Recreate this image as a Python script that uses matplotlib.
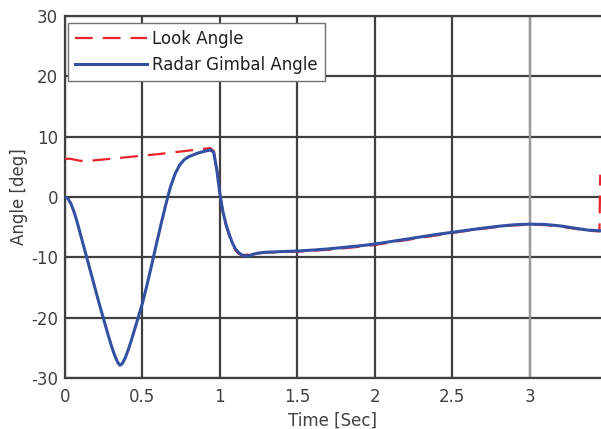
import matplotlib
matplotlib.use("Agg")
import matplotlib.pyplot as plt

# Time samples and angles [deg]
t_radar = [0.00, 0.02, 0.04, 0.06, 0.08, 0.10, 0.12, 0.14, 0.16, 0.18, 0.20, 0.22,
           0.24, 0.26, 0.28, 0.30, 0.32, 0.34, 0.355, 0.37, 0.39, 0.41, 0.43, 0.45,
           0.47, 0.50, 0.53, 0.56, 0.59, 0.62, 0.65, 0.68, 0.71, 0.74, 0.77, 0.80,
           0.83, 0.86, 0.89, 0.92, 0.94, 0.96, 0.98, 1.00, 1.02, 1.04, 1.06, 1.08,
           1.10, 1.12, 1.14, 1.16, 1.19, 1.22, 1.26, 1.30, 1.40, 1.50, 1.60, 1.70,
           1.80, 1.90, 2.00, 2.10, 2.20, 2.30, 2.40, 2.50, 2.60, 2.70, 2.80, 2.90,
           3.00, 3.10, 3.20, 3.30, 3.38, 3.455]
radar_angle = [0.0, -0.3, -1.2, -2.6, -4.3, -6.2, -8.1, -10.0, -11.9, -13.8, -15.7, -17.6,
               -19.4, -21.2, -23.0, -24.7, -26.2, -27.4, -27.9, -27.6, -26.6, -25.2, -23.6, -21.9,
               -20.2, -17.6, -14.5, -11.2, -7.8, -4.5, -1.3, 1.6, 3.8, 5.3, 6.2, 6.7,
               7.0, 7.3, 7.5, 7.7, 7.8, 7.4, 4.5, 0.5, -2.5, -4.6, -6.2, -7.6,
               -8.6, -9.2, -9.6, -9.75, -9.7, -9.45, -9.25, -9.15, -9.05, -8.95, -8.8, -8.6,
               -8.35, -8.1, -7.8, -7.4, -7.0, -6.6, -6.2, -5.85, -5.5, -5.15, -4.85, -4.6,
               -4.5, -4.55, -4.8, -5.2, -5.5, -5.6]

t_look = [0.00, 0.03, 0.06, 0.10, 0.13, 0.20, 0.30, 0.40, 0.50, 0.60, 0.70, 0.80,
          0.90, 0.94, 0.96, 0.98, 1.00, 1.02, 1.04, 1.06, 1.08, 1.10, 1.12, 1.14,
          1.16, 1.19, 1.22, 1.26, 1.30, 1.40, 1.50, 1.60, 1.70, 1.80, 1.90, 2.00,
          2.10, 2.20, 2.30, 2.40, 2.50, 2.60, 2.70, 2.80, 2.90, 3.00, 3.10, 3.20,
          3.30, 3.38, 3.45, 3.455]
look_angle = [6.3, 6.35, 6.2, 6.0, 5.95, 6.1, 6.35, 6.6, 6.85, 7.1, 7.4, 7.7,
              8.0, 8.1, 7.6, 4.7, 0.6, -2.6, -4.8, -6.4, -7.8, -8.8, -9.4, -9.6,
              -9.6, -9.5, -9.4, -9.3, -9.2, -9.15, -9.05, -8.9, -8.75, -8.5, -8.25, -7.95,
              -7.55, -7.15, -6.75, -6.35, -5.95, -5.6, -5.25, -4.95, -4.7, -4.6, -4.65, -4.9,
              -5.3, -5.6, -5.7, 3.7]

x_ticks = [0, 0.5, 1, 1.5, 2, 2.5, 3]
x_tick_labels = ["0", "0.5", "1", "1.5", "2", "2.5", "3"]
y_ticks = [-30, -20, -10, 0, 10, 20, 30]

plt.rcParams["font.family"] = ["DejaVu Sans"]
plt.rcParams["axes.unicode_minus"] = False

fs = 12
fig = plt.figure(figsize=(6.01, 4.29), dpi=100)
ax = fig.add_axes([65 / 601, 1 - 378 / 429, 1 - 65 / 601, (378 - 16) / 429])

grid_col = "#404040"
text_col = "#404040"

ax.plot(t_look, look_angle, color="#e8232b", lw=1.6, dashes=(8, 4.5),
        label="Look Angle", zorder=3)
ax.plot(t_radar, radar_angle, color="#3350a3", lw=2.2, label="Radar Gimbal Angle",
        zorder=4)

ax.set_xlim(0, 3.46)
ax.set_ylim(-30, 30)
ax.set_xticks(x_ticks)
ax.set_xticklabels(x_tick_labels)
ax.set_yticks(y_ticks)

ax.grid(True, color=grid_col, lw=1.6)
ax.set_axisbelow(True)
# marker line at t = 3 s
ax.axvline(3, color="#9a9a9a", lw=1.6, zorder=1.5)

for side in ["left", "bottom", "top"]:
    ax.spines[side].set_color(grid_col)
    ax.spines[side].set_linewidth(1.6)
ax.spines["right"].set_visible(False)

ax.tick_params(axis="x", length=0, labelsize=fs, labelcolor=text_col, pad=7)
ax.tick_params(axis="y", length=0, labelsize=fs, labelcolor=text_col, pad=5)
ax.set_xlabel("Time [Sec]", fontsize=fs, color=text_col, labelpad=4)
ax.set_ylabel("Angle [deg]", fontsize=fs, color=text_col, labelpad=2)

leg = ax.legend(loc="upper left", bbox_to_anchor=(0.0, 0.99), fontsize=fs,
                frameon=True, fancybox=False, edgecolor="#707070", framealpha=1,
                handlelength=4.3, handletextpad=0.35, labelspacing=0.5,
                borderpad=0.4, borderaxespad=0.2)
leg.get_frame().set_linewidth(1.0)
for txt in leg.get_texts():
    txt.set_color("#202020")

fig.savefig("out.png", dpi=100)
